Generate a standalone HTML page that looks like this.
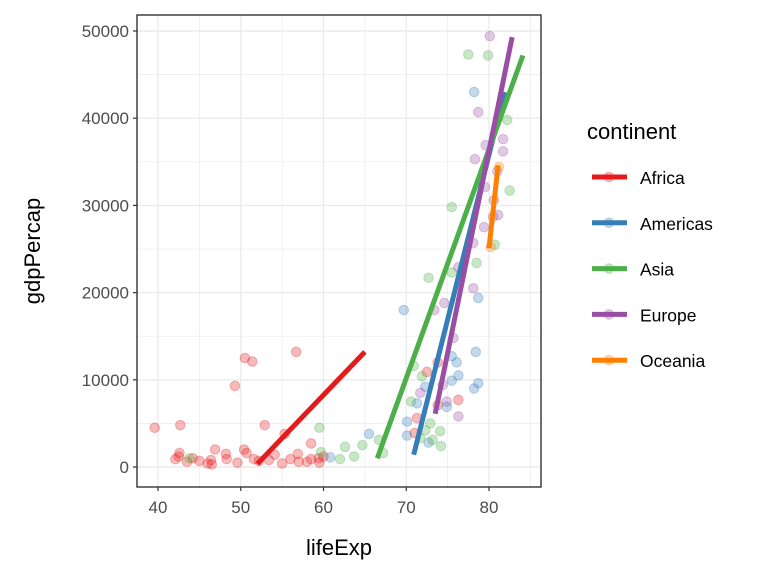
<!DOCTYPE html>
<html><head><meta charset="utf-8"><style>
body{margin:0;background:#fff;font-family:"Liberation Sans",sans-serif}
</style></head><body>
<svg id="c" width="768" height="576" xmlns="http://www.w3.org/2000/svg"></svg>
<script>
const continents=["Africa","Americas","Asia","Europe","Oceania"];
const colors=["#E41A1C","#377EB8","#4DAF4A","#984EA3","#FF7F00"];
const africaLife=[39.6,42.7,42.1,42.5,42.6,43.5,44.2,45.0,46.0,46.4,46.5,46.9,48.2,48.3,49.3,49.6,50.4,50.5,50.7,51.4,51.6,52.2,52.9,53.4,54.1,55.3,55.0,56.0,56.7,56.9,57.0,58.0,58.5,58.5,59.5,59.4,60.0,73.8,72.5,76.3,71.3,73.8,71.0];
const africaGdp=[4500,4800,900,1200,1600,600,1000,700,400,800,300,2000,1500,900,9300,500,2000,12500,1600,12100,900,700,4800,800,1400,3800,400,900,13200,1500,600,600,2700,900,500,1000,1200,12000,10900,7700,5600,7100,3900];
const americasLife=[69.7,78.7,78.4,76.1,76.3,75.5,78.7,78.2,74.9,72.3,71.3,70.1,70.1,72.7,75.5,60.8,65.5,78.2];
const americasGdp=[18000,19400,13200,12000,10500,9900,9600,9000,6900,9200,7300,5200,3600,2800,12700,1100,3800,43000];
const asiaLife=[43.8,59.5,59.7,62.0,62.6,63.7,64.7,66.7,67.2,77.5,79.9,82.2,82.5,75.5,80.7,78.5,75.5,72.7,70.9,71.9,70.6,72.9,74.1,72.3,74.2,73.2,71.7];
const asiaGdp=[1000,4500,1700,900,2300,1200,2500,3100,1600,47300,47200,39800,31700,29800,25500,23400,22300,21700,11600,10400,7500,5000,4100,4200,2400,3100,3300];
const europeLife=[80.1,78.7,81.7,79.6,81.7,78.3,81.0,79.5,80.6,81.1,80.5,79.4,78.1,76.3,78.1,74.6,73.4,75.7,74.4,71.7,74.9,76.3];
const europeGdp=[49400,40700,37600,36900,36200,35300,33900,32100,30600,28900,28700,27500,25700,22900,20500,18800,18000,14800,9400,8500,7500,5800];
const oceaniaLife=[80.2,81.2];
const oceaniaGdp=[25200,34400];
const fitX0=[52.0,70.9,66.5,73.5,80.0];
const fitY0=[350,1400,1000,6100,25100];
const fitX1=[65.0,81.9,84.1,82.8,81.1];
const fitY1=[13200,43000,47200,49300,34600];
const xTicks=[40,50,60,70,80];
const yTicks=[0,10000,20000,30000,40000,50000];

const NS="http://www.w3.org/2000/svg",svg=document.getElementById('c');
const L=137,R=541,T=15,B=487;
const sx=v=>158+(v-40)*8.275, sy=v=>467-v*0.00872;
function mk(t,a,p){const e=document.createElementNS(NS,t);for(const k in a)e.setAttribute(k,a[k]);(p||svg).appendChild(e);return e;}
mk('rect',{x:L,y:T,width:R-L,height:B-T,fill:'#fff'});
for(let v=35;v<=85;v+=5){const x=sx(v);if(x<L||x>R)continue;
 const g=mk('line',{x1:x,x2:x,y1:T,y2:B,stroke:'#ebebeb','stroke-width':v%10==0?1.4:0.7});
 }
for(let v=-5000;v<=55000;v+=5000){const y=sy(v);if(y<T||y>B)continue;
 const g=mk('line',{x1:L,x2:R,y1:y,y2:y,stroke:'#ebebeb','stroke-width':v%10000==0?1.4:0.7});
 }
const series=[[africaLife,africaGdp],[americasLife,americasGdp],[asiaLife,asiaGdp],[europeLife,europeGdp],[oceaniaLife,oceaniaGdp]];
series.forEach((s,i)=>{s[0].forEach((lx,j)=>{
 const c=mk('circle',{cx:sx(lx),cy:sy(s[1][j]),r:4.8,fill:colors[i],'fill-opacity':0.3,stroke:colors[i],'stroke-opacity':0.3,'stroke-width':1});
 
 });});
continents.forEach((n,i)=>{
 const l=mk('line',{x1:sx(fitX0[i]),y1:sy(fitY0[i]),x2:sx(fitX1[i]),y2:sy(fitY1[i]),stroke:colors[i],'stroke-width':5});
 
 });
const fr=mk('rect',{x:L,y:T,width:R-L,height:B-T,fill:'none',stroke:'#333','stroke-width':1.4});

xTicks.forEach(v=>{const x=sx(v);mk('line',{x1:x,x2:x,y1:B,y2:B+4,stroke:'#333','stroke-width':1.2});
 const t=mk('text',{x:x,y:B+26,'text-anchor':'middle','font-size':17,fill:'#4d4d4d'});t.textContent=v;
 });
yTicks.forEach(v=>{const y=sy(v);mk('line',{x1:L-4,x2:L,y1:y,y2:y,stroke:'#333','stroke-width':1.2});
 const t=mk('text',{x:L-8,y:y+6,'text-anchor':'end','font-size':17,fill:'#4d4d4d'});t.textContent=v;
 });
const xt=mk('text',{x:339,y:555,'text-anchor':'middle','font-size':22,fill:'#000'});xt.textContent='lifeExp';

const yt=mk('text',{x:0,y:0,'text-anchor':'middle','font-size':22,fill:'#000',transform:'translate(40,251) rotate(-90)'});yt.textContent='gdpPercap';

const lt=mk('text',{x:587,y:139,'font-size':22,fill:'#000'});lt.textContent='continent';

continents.forEach((n,i)=>{const y=177+i*45.8;
 const g=mk('g',{});
 mk('circle',{cx:609,cy:y,r:4.8,fill:colors[i],'fill-opacity':0.3,stroke:colors[i],'stroke-opacity':0.3},g);
 mk('line',{x1:592,x2:627,y1:y,y2:y,stroke:colors[i],'stroke-width':5},g);
 const t=mk('text',{x:640,y:y+7,'font-size':17.5,fill:'#000'},g);t.textContent=n;});
</script></body></html>
